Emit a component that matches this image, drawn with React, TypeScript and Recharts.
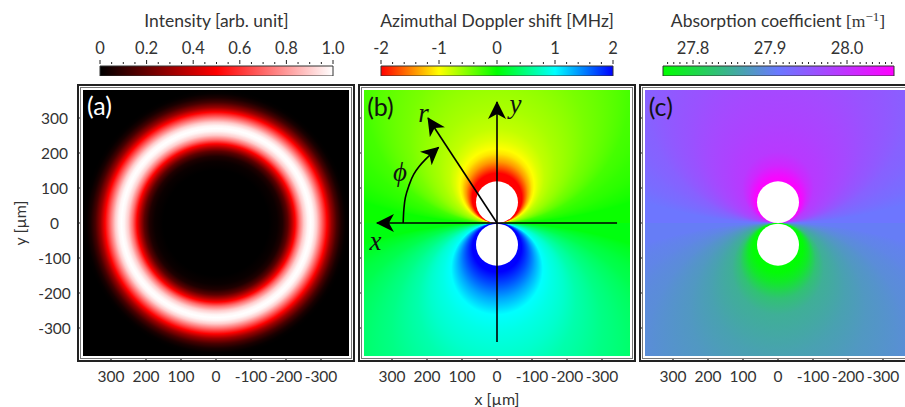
import React from 'react';
import { ScatterChart, Scatter, XAxis, YAxis, ReferenceArea, ReferenceDot, ReferenceLine } from 'recharts';

const FONT = 'Lato, "Open Sans", sans-serif';
const TEXT = '#333';

// panel axes
const axisTicks = [300, 200, 100, 0, -100, -200, -300];
const imageHalf = 380;
const far = 2500; // box of the tangent-circle gradients

// (a) ring profile
const ringRadius = [0, 150, 175, 190, 205, 215, 226, 238, 251, 262, 270, 278, 288, 300, 317, 330, 345, 358, 370, 380];
const ringIntensity = [0, 0, 0.02, 0.06, 0.18, 0.32, 0.5, 0.72, 0.9, 0.98, 1, 0.98, 0.9, 0.74, 0.5, 0.3, 0.14, 0.05, 0.01, 0];

// (b) doppler shift against the diameter of the circle tangent at the origin
const dopplerDiameterUp = [119, 142, 158, 175, 198, 212, 238, 270, 330, 400, 500, 760, 1000, 1544, 2500];
const dopplerUp = [-2, -2, -1.7, -1.4, -1.1, -1, -0.87, -0.76, -0.66, -0.58, -0.47, -0.27, -0.2, -0.12, -0.04];
const dopplerDiameterDown = [119, 140, 176, 216, 262, 310, 380, 450, 600, 760, 1000, 1544, 2500];
const dopplerDown = [2, 2, 1.7, 1.35, 1, 0.9, 0.8, 0.68, 0.52, 0.42, 0.3, 0.18, 0.06];

// (c) absorption against the same diameter
const absorptionDiameterUp = [119, 132, 166, 204, 290, 380, 500, 760, 1100, 1800, 2500];
const absorptionUp = [28.06, 28.05, 28.012, 27.99, 27.978, 27.97, 27.958, 27.94, 27.93, 27.92, 27.914];
const absorptionDiameterDown = [119, 142, 170, 216, 262, 380, 500, 760, 1200, 2500];
const absorptionDown = [27.76, 27.765, 27.785, 27.83, 27.85, 27.865, 27.875, 27.888, 27.897, 27.906];

// colour maps
const intensityMap: [number, string][] = [[0, '#000000'], [0.5, '#ff0000'], [1, '#ffffff']];
const dopplerMap: [number, string][] = [[-2, '#ff0000'], [-1, '#ffff00'], [0, '#00ff00'], [1, '#00ffff'], [2, '#0000ff']];
const absorptionMap: [number, string][] = [[27.761, '#00ff00'], [27.911, '#6a78ff'], [28.061, '#ff00ff']];

// colour bar ticks
const intensityMajor = [0, 0.2, 0.4, 0.6, 0.8, 1];
const intensityLabels = ['0', '0.2', '0.4', '0.6', '0.8', '1.0'];
const intensityMinor = [0.05, 0.1, 0.15, 0.25, 0.3, 0.35, 0.45, 0.5, 0.55, 0.65, 0.7, 0.75, 0.85, 0.9, 0.95];
const dopplerMajor = [-2, -1, 0, 1, 2];
const dopplerLabels = ['-2', '-1', '0', '1', '2'];
const dopplerMinor = [-1.8, -1.6, -1.4, -1.2, -0.8, -0.6, -0.4, -0.2, 0.2, 0.4, 0.6, 0.8, 1.2, 1.4, 1.6, 1.8];
const absorptionMajor = [27.8, 27.9, 28.0];
const absorptionLabels = ['27.8', '27.9', '28.0'];
const absorptionMinor = [
  27.767, 27.775, 27.783, 27.792, 27.808, 27.817, 27.825, 27.833, 27.842, 27.85, 27.858, 27.867, 27.875, 27.883,
  27.892, 27.908, 27.917, 27.925, 27.933, 27.942, 27.95, 27.958, 27.967, 27.975, 27.983, 27.992, 28.008, 28.017,
  28.025, 28.033, 28.042, 28.05, 28.058,
];

// (b) annotations, in µm
const axisXLine = [{ x: -343, y: 0 }, { x: 343, y: 0 }];
const axisYLine = [{ x: 0, y: -340 }, { x: 0, y: 346 }];
const radiusLine = [{ x: 0, y: 0 }, { x: 197, y: 300 }];
const phiArc = [
  { x: 268, y: 0 }, { x: 266, y: 40 }, { x: 262, y: 72 }, { x: 252, y: 106 }, { x: 238, y: 139 },
  { x: 222, y: 162 }, { x: 205, y: 181 }, { x: 167, y: 216 },
];

const hex = (c: string) => [1, 3, 5].map((i) => parseInt(c.slice(i, i + 2), 16));

const colourAt = (map: [number, string][], v: number) => {
  for (let i = 1; i < map.length; i++) {
    if (v <= map[i][0]) {
      const t = Math.max(0, (v - map[i - 1][0]) / (map[i][0] - map[i - 1][0]));
      const a = hex(map[i - 1][1]);
      const b = hex(map[i][1]);
      return `rgb(${a.map((p, k) => Math.round(p + (b[k] - p) * t)).join(',')})`;
    }
  }
  return map[map.length - 1][1];
};

const Tangent = ({ id, focal, sizes, values, map }: any) => (
  <radialGradient id={id} cx={0.5} cy={0.5} r={0.5} fx={0.5} fy={focal}>
    {sizes.map((d: number, i: number) => (
      <stop key={d} offset={d / far} stopColor={colourAt(map, values[i])} />
    ))}
  </radialGradient>
);

const Disk = ({ x, y, width, height }: any) => (
  <ellipse cx={x + width / 2} cy={y + height / 2} rx={Math.abs(width) / 2} ry={Math.abs(height) / 2} fill="#fff" />
);

const XTick = ({ x, y, payload }: any) => (
  <g>
    <line x1={x} x2={x} y1={y + 1} y2={y + 3} stroke="#222" strokeWidth={1.2} />
    <text x={x} y={y + 18} textAnchor="middle" dominantBaseline="central" fontFamily={FONT} fontSize={15.5} fill={TEXT}>
      {payload.value}
    </text>
  </g>
);

const YTick = ({ x, y, payload, labelled }: any) => (
  <g>
    <line x1={x - 1} x2={x - 3} y1={y} y2={y} stroke="#222" strokeWidth={1.2} />
    {labelled && (
      <text x={54.5} y={y} textAnchor="middle" dominantBaseline="central" fontFamily={FONT} fontSize={15.5} fill={TEXT}>
        {payload.value}
      </text>
    )}
  </g>
);

const Panel = ({ center, labelled, children, defs }: any) => (
  <>
    <div style={{ position: 'absolute', left: center - 139, top: 84, width: 274, height: 274, border: '2px solid #222' }} />
    <div style={{ position: 'absolute', left: center - 136, top: 87, width: 270, height: 270, border: '1px solid #777' }} />
    <div style={{ position: 'absolute', left: center - 216, top: 0 }}>
      <ScatterChart width={364} height={407} margin={{ top: 90, right: 15, bottom: 0, left: 0 }}>
        <defs>{defs}</defs>
        <XAxis
          type="number"
          dataKey="x"
          domain={[-imageHalf, imageHalf]}
          allowDataOverflow
          reversed
          ticks={axisTicks}
          interval={0}
          height={51}
          axisLine={false}
          tickLine={false}
          tickSize={0}
          tick={<XTick />}
        />
        <YAxis
          type="number"
          dataKey="y"
          domain={[-imageHalf, imageHalf]}
          allowDataOverflow
          ticks={axisTicks}
          interval={0}
          width={83}
          axisLine={false}
          tickLine={false}
          tickSize={0}
          tick={<YTick labelled={labelled} />}
        />
        {children}
      </ScatterChart>
    </div>
  </>
);

const upperHalf = (id: string) => (
  <ReferenceArea x1={-far / 2} x2={far / 2} y1={0} y2={far} ifOverflow="hidden" fill={`url(#${id})`} fillOpacity={1} stroke="none" />
);
const lowerHalf = (id: string) => (
  <ReferenceArea x1={-far / 2} x2={far / 2} y1={-far} y2={0} ifOverflow="hidden" fill={`url(#${id})`} fillOpacity={1} stroke="none" />
);
const disks = [
  <ReferenceArea key="up" x1={-60} x2={60} y1={0} y2={119} shape={<Disk />} />,
  <ReferenceArea key="down" x1={-60} x2={60} y1={-122} y2={-2} shape={<Disk />} />,
];

// text pinned to a data position, above the reference areas
const note = (value: string, x: number, y: number, style: any) => (
  <ReferenceDot
    key={value}
    x={x}
    y={y}
    r={0}
    ifOverflow="visible"
    shape={({ cx, cy }: any) => (
      <text x={cx} y={cy} textAnchor="middle" dominantBaseline="central" {...style}>
        {value}
      </text>
    )}
  />
);

const BarTick = ({ x, y, payload, majors, labels }: any) => {
  const at = majors.indexOf(payload.value);
  return (
    <g>
      <line x1={x} x2={x} y1={y} y2={y - (at >= 0 ? 4 : 2)} stroke="#222" strokeWidth={1} />
      {at >= 0 && (
        <text x={x} y={y - 16} textAnchor="middle" dominantBaseline="central" fontFamily={FONT} fontSize={16.5} fill={TEXT}>
          {labels[at]}
        </text>
      )}
    </g>
  );
};

const ColourBar = ({ id, left, right, map, majors, minors, labels, children }: any) => {
  const low = map[0][0];
  const high = map[map.length - 1][0];
  return (
    <div style={{ position: 'absolute', left: left - 40, top: 0 }}>
      <ScatterChart width={right - left + 80} height={76} margin={{ top: 0, right: 40, bottom: 0, left: 40 }}>
        <defs>
          <linearGradient id={id} x1={0} x2={1} y1={0} y2={0}>
            {map.map(([v, c]: [number, string]) => (
              <stop key={v} offset={(v - low) / (high - low)} stopColor={c} />
            ))}
          </linearGradient>
        </defs>
        <XAxis
          orientation="top"
          type="number"
          dataKey="x"
          domain={[low, high]}
          allowDataOverflow
          ticks={[...majors, ...minors].sort((a: number, b: number) => a - b)}
          interval={0}
          height={66}
          axisLine={false}
          tickLine={false}
          tickSize={0}
          tick={<BarTick majors={majors} labels={labels} />}
        />
        <YAxis hide type="number" dataKey="y" domain={[0, 1]} allowDataOverflow />
        <ReferenceArea x1={low} x2={high} y1={0} y2={1} fill={`url(#${id})`} fillOpacity={1} stroke="#333" strokeWidth={1} />
        {children}
      </ScatterChart>
    </div>
  );
};

const title = { textAnchor: 'middle' as const, fontFamily: FONT, fontSize: 17.5, fill: TEXT };
const math = { fontFamily: '"Liberation Serif", serif', fontStyle: 'italic', fontSize: 27, fill: '#111' };
const tagDark = { fontFamily: FONT, fontSize: 25, fill: '#111' };
const tagLight = { fontFamily: FONT, fontSize: 25, fill: '#fff' };

const arrowLine = { stroke: '#000', strokeWidth: 1.6, markerEnd: 'url(#arrowHead)', ifOverflow: 'visible' as const };

const App = () => {
  const ringStops = ringRadius.map((r, i) => (
    <stop key={r} offset={r / imageHalf} stopColor={colourAt(intensityMap, ringIntensity[i])} />
  ));

  return (
    <div style={{ position: 'absolute', left: 0, top: 0, width: 905, height: 407, overflow: 'hidden', background: '#fff' }}>
      <ColourBar id="barA" left={99.5} right={332.5} map={intensityMap} majors={intensityMajor} minors={intensityMinor} labels={intensityLabels}>
        <text x={156.5} y={27} {...title}>Intensity [arb. unit]</text>
      </ColourBar>
      <ColourBar id="barB" left={381} right={613} map={dopplerMap} majors={dopplerMajor} minors={dopplerMinor} labels={dopplerLabels}>
        <text x={156} y={27} {...title}>Azimuthal Doppler shift [MHz]</text>
      </ColourBar>
      <ColourBar id="barC" left={662.5} right={893.5} map={absorptionMap} majors={absorptionMajor} minors={absorptionMinor} labels={absorptionLabels}>
        <text x={155} y={27} {...title}>
          Absorption coefficient{' '}
          <tspan fontFamily='"Liberation Serif", serif'>[m</tspan>
          <tspan fontFamily='"Liberation Serif", serif' dy={-6} fontSize={13}>−1</tspan>
          <tspan fontFamily='"Liberation Serif", serif' dy={6}>]</tspan>
        </text>
      </ColourBar>

      <Panel
        center={216}
        labelled
        defs={
          <radialGradient id="ring" cx={0.5} cy={0.5} r={0.5}>
            {ringStops}
          </radialGradient>
        }
      >
        <ReferenceArea x1={-imageHalf} x2={imageHalf} y1={-imageHalf} y2={imageHalf} fill="url(#ring)" fillOpacity={1} stroke="none" />
        {note('(a)', 333, 337, tagLight)}
        <text x={19} y={223} textAnchor="middle" dominantBaseline="central" fontFamily={FONT} fontSize={16} fill={TEXT} transform="rotate(-90 19 223)">y [µm]</text>
      </Panel>

      <Panel
        center={497}
        defs={
          <>
            <Tangent id="dopUp" focal={1} sizes={dopplerDiameterUp} values={dopplerUp} map={dopplerMap} />
            <Tangent id="dopDown" focal={0} sizes={dopplerDiameterDown} values={dopplerDown} map={dopplerMap} />
            <marker id="arrowHead" markerUnits="userSpaceOnUse" markerWidth={20} markerHeight={20} refX={17} refY={10} orient="auto">
              <path d="M18,10 L0,1 L5,10 L0,19 Z" fill="#000" />
            </marker>
          </>
        }
      >
        {upperHalf('dopUp')}
        {lowerHalf('dopDown')}
        {disks}
        <ReferenceLine segment={[axisXLine[0], axisXLine[1]]} {...arrowLine} />
        <ReferenceLine segment={[axisYLine[0], axisYLine[1]]} {...arrowLine} />
        <ReferenceLine segment={[radiusLine[0], radiusLine[1]]} {...arrowLine} />
        <Scatter
          data={phiArc}
          line={{ stroke: '#000', strokeWidth: 1.6, markerEnd: 'url(#arrowHead)' }}
          lineType="joint"
          lineJointType="monotoneY"
          shape={() => null}
          isAnimationActive={false}
        />
        {note('ϕ', 277, 146, math)}
        {note('r', 210, 314, math)}
        {note('y', -53, 340, math)}
        {note('x', 347, -51, math)}
        {note('(b)', 333, 335, tagDark)}
        <text x={216} y={398} textAnchor="middle" dominantBaseline="central" fontFamily={FONT} fontSize={16} fill={TEXT}>x [µm]</text>
      </Panel>

      <Panel
        center={778}
        defs={
          <>
            <Tangent id="absUp" focal={1} sizes={absorptionDiameterUp} values={absorptionUp} map={absorptionMap} />
            <Tangent id="absDown" focal={0} sizes={absorptionDiameterDown} values={absorptionDown} map={absorptionMap} />
          </>
        }
      >
        {upperHalf('absUp')}
        {lowerHalf('absDown')}
        {disks}
        {note('(c)', 335, 335, tagDark)}
      </Panel>
    </div>
  );
};

export default App;
